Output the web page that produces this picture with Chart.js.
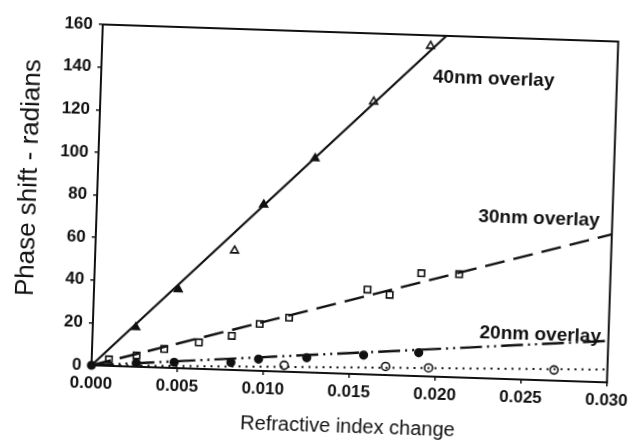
<!DOCTYPE html>
<html>
<head>
<meta charset="utf-8">
<script src="https://cdn.jsdelivr.net/npm/chart.js@4.4.1/dist/chart.umd.min.js"></script>
<style>
  html, body { margin: 0; padding: 0; background: #fff; overflow: hidden; }
  #wrap {
    position: absolute; left: 0; top: 0; width: 638px; height: 447px;
    transform-origin: 357px 203.5px; transform: rotate(1.9deg);
  }
  canvas { display: block; }
</style>
</head>
<body>
<div id="wrap"><canvas id="c" width="638" height="447"></canvas></div>
<script>
// Axis ticks
const xTickValues = [0, 0.005, 0.010, 0.015, 0.020, 0.025, 0.030];
const yTickValues = [0, 20, 40, 60, 80, 100, 120, 140, 160];

// Axis titles and the names written beside the curves
const xTitle = 'Refractive index change';
const yTitle = 'Phase shift - radians';
const seriesNames = ['40nm overlay', '30nm overlay', '20nm overlay'];

// Straight-line fits (refractive index change -> phase shift, radians)
const fit40x = [0, 0.0200];  const fit40y = [0, 160];
const fit30x = [0, 0.0300];  const fit30y = [0, 69.5];
const fit20x = [0, 0.0300];  const fit20y = [0, 19.5];
const fit10x = [0, 0.0300];  const fit10y = [0, 6];

// 40nm overlay: points on the fit and measured points
const s40x = [0.0025, 0.0049, 0.0097, 0.0126];
const s40y = [18.5, 37, 78, 100.5];
const m40x = [0.0081, 0.0159, 0.0191];
const m40y = [56, 128, 155];

// 30nm overlay
const s30x = [0.0010, 0.0026, 0.0042, 0.0062, 0.0081, 0.0097, 0.0114, 0.0159, 0.0172, 0.0190, 0.0212];
const s30y = [3, 5.3, 8.8, 12.4, 16, 22, 25.4, 39.8, 37.7, 48.3, 48.4];

// 20nm overlay (origin shared by every curve)
const s20x = [0, 0.0026, 0.0048, 0.0081, 0.0097, 0.0125, 0.0158, 0.0190];
const s20y = [0, 1.7, 2.7, 3.5, 5.5, 6.9, 9, 11];

// thinnest overlay, dotted curve
const s10x = [0.0112, 0.0171, 0.0196, 0.0269];
const s10y = [3, 4, 4, 5];

const ink = '#111';
const FONT = '"Liberation Sans", Arial, Helvetica, sans-serif';

function pts(xs, ys) { return xs.map((x, i) => ({ x: x, y: ys[i] })); }

function fitLine(xs, ys, dash, w) {
  return { data: pts(xs, ys), showLine: true, borderColor: ink, borderWidth: w,
           borderDash: dash, pointRadius: 0, fill: false, clip: false };
}
function markers(xs, ys, style, r, filled) {
  return { data: pts(xs, ys), showLine: false, pointStyle: style, pointRadius: r,
           pointBorderWidth: 1.6, pointBorderColor: ink,
           pointBackgroundColor: filled ? ink : '#fff', clip: false };
}

// closed box around the plotting area
const frame = {
  id: 'frame',
  beforeDatasetsDraw(chart) {
    const { ctx, chartArea: a } = chart;
    ctx.save();
    ctx.strokeStyle = ink;
    ctx.lineWidth = 2;
    ctx.strokeRect(a.left, a.top, a.right - a.left, a.bottom - a.top);
    ctx.restore();
  }
};

// curve names (anchored in data units: left edge, baseline) and the vertical axis title
const nameAnchors = [[0.0193, 138], [0.0222, 73], [0.0225, 19]];
const annotations = {
  id: 'annotations',
  afterDatasetsDraw(chart) {
    const { ctx, scales: { x, y } } = chart;
    ctx.save();
    ctx.fillStyle = ink;
    ctx.font = 'bold 19px ' + FONT;
    ctx.textAlign = 'left';
    ctx.textBaseline = 'alphabetic';
    seriesNames.forEach((t, i) => {
      ctx.fillText(t, x.getPixelForValue(nameAnchors[i][0]), y.getPixelForValue(nameAnchors[i][1]));
    });
    // y title, a little above the middle of the axis
    ctx.translate(29, y.getPixelForValue(87));
    ctx.rotate(-Math.PI / 2);
    ctx.font = '26px ' + FONT;
    ctx.textAlign = 'center';
    ctx.textBaseline = 'middle';
    ctx.fillText(yTitle, 0, 0);
    ctx.restore();
  }
};

new Chart(document.getElementById('c'), {
  type: 'scatter',
  data: {
    datasets: [
      fitLine(fit40x, fit40y, [], 2.2),
      fitLine(fit30x, fit30y, [20, 9], 2.4),
      fitLine(fit20x, fit20y, [22, 5, 2, 5, 2, 5], 2.4),
      fitLine(fit10x, fit10y, [2, 5], 2),
      markers(s40x, s40y, 'triangle', 4.5, true),
      markers(m40x, m40y, 'triangle', 4.5, false),
      markers(s30x, s30y, 'rect', 4.5, false),
      markers(s20x, s20y, 'circle', 3.8, true),
      markers(s10x, s10y, 'circle', 4, false)
    ]
  },
  options: {
    responsive: false,
    animation: false,
    devicePixelRatio: 1,
    layout: { padding: { left: 0, top: 33, right: 21, bottom: 0 } },
    plugins: { legend: { display: false }, tooltip: { enabled: false } },
    scales: {
      x: {
        type: 'linear', min: 0, max: 0.03,
        afterBuildTicks(s) { s.ticks = xTickValues.map(v => ({ value: v })); },
        afterFit(s) { s.height = 73; },
        ticks: { color: ink, padding: 4, maxRotation: 0, autoSkip: false,
                 font: { family: FONT, size: 17, weight: 'bold' },
                 callback: v => Number(v).toFixed(3) },
        grid: { drawOnChartArea: false, drawTicks: true, tickLength: 4, color: ink, lineWidth: 1.5 },
        border: { display: true, color: ink, width: 2 },
        title: { display: true, text: xTitle, color: ink,
                 font: { family: FONT, size: 20 }, padding: { top: 2, bottom: 8 } }
      },
      y: {
        type: 'linear', min: 0, max: 160,
        afterBuildTicks(s) { s.ticks = yTickValues.map(v => ({ value: v })); },
        afterFit(s) { s.width = 97; },
        ticks: { color: ink, padding: 6, autoSkip: false,
                 font: { family: FONT, size: 17, weight: 'bold' } },
        grid: { drawOnChartArea: false, drawTicks: true, tickLength: 4, color: ink, lineWidth: 1.5 },
        border: { display: true, color: ink, width: 2 },
        title: { display: false }
      }
    }
  },
  plugins: [frame, annotations]
});
</script>
</body>
</html>
